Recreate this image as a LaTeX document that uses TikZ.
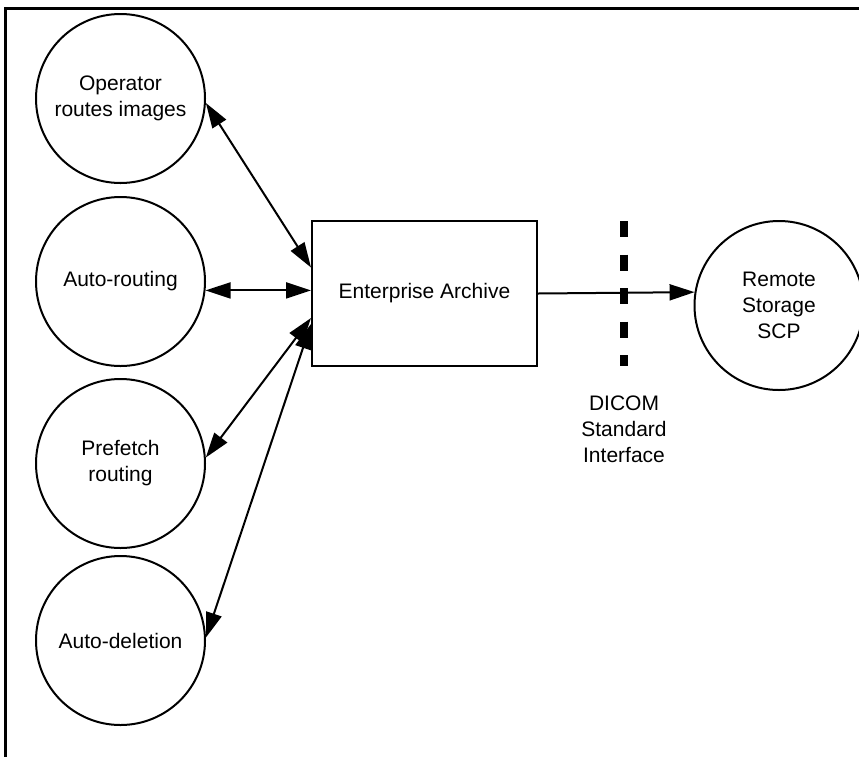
\documentclass[tikz,border=0pt]{standalone}
\usepackage{fontspec}
\setmainfont{Liberation Sans}
\usepackage{tikz}
\usetikzlibrary{arrows.meta}

\tikzset{
  task/.style = {draw, circle, line width = 2pt, minimum size = 169pt, inner sep = 0pt, align = center},
  store/.style = {draw, rectangle, line width = 2pt, minimum width = 225pt, minimum height = 145pt, align = center},
  link/.style = {line width = 2pt, {Triangle[length = 25pt, width = 16pt]}-{Triangle[length = 25pt, width = 16pt]}},
  feed/.style = {line width = 2pt, -{Triangle[length = 25pt, width = 16pt]}}
}

\begin{document}
\begin{tikzpicture}[x = 1pt, y = -1pt, font = \fontsize{21}{26}\selectfont]
\useasboundingbox (0,0) rectangle (859,756);
\begin{scope}
\clip (0,0) rectangle (859,756);
\draw[line width = 3pt](5,8) rectangle (900,800);
\end{scope}

\node[task] (oper) at (120.5,98.5) {Operator\\routes images};
\node[task] (auto) at (120.5,281.5) {Auto-routing};
\node[task] (pref) at (120.5,463.5) {Prefetch\\routing};
\node[task] (dele) at (120.5,640.5) {Auto-deletion};

\node[store] (arch) at (424.5,293.5) {Enterprise Archive};
\node[task] (remo) at (779,305.5) {Remote\\Storage\\SCP};

\draw[link](oper.-3) -- ([yshift = 26pt]arch.west);
\draw[link](auto.-6) -- (auto.-6 -| arch.west);
\draw[link](pref.4) -- ([yshift = -24.5pt]arch.west);
\draw[link](dele.2) -- ([yshift = -30.5pt]arch.west);

\draw[feed](arch.east) -- (remo.171);

\coordinate (gtop) at (624,221);
\coordinate (gbot) at (624,366);
\draw[line width = 8pt, dash pattern = on 16pt off 17.5pt](gtop) -- (gbot);
\node[align = center, anchor = north, inner sep = 0pt] (gate) at (624,396) {DICOM\\Standard\\Interface};
\end{tikzpicture}
\end{document}
